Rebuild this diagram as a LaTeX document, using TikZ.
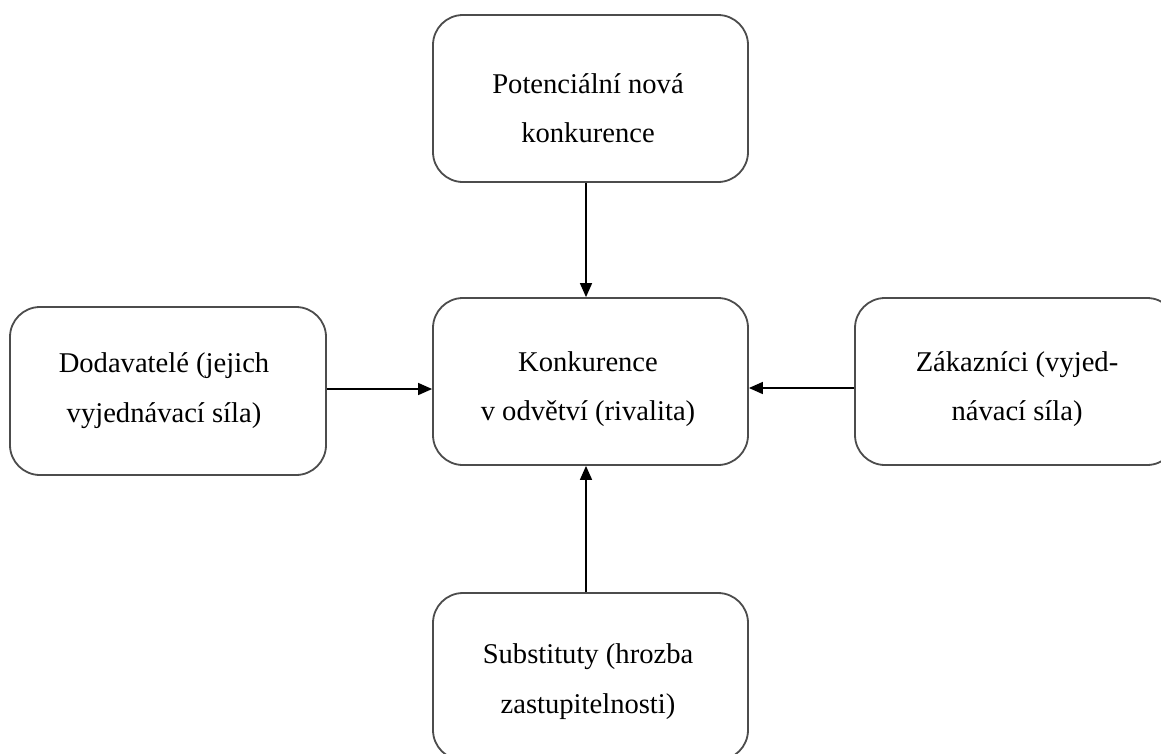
\documentclass[tikz,border=0pt]{standalone}
\usepackage{fontspec}
\setmainfont{Liberation Serif}
\usetikzlibrary{arrows.meta}
\begin{document}
\begin{tikzpicture}[x=1pt,y=-1pt,
  box/.style={draw=black!70, line width=1.8pt, rounded corners=30pt, inner sep=0pt},
  lbl/.style={anchor=base, inner sep=0pt, font=\fontsize{28.6}{49}\selectfont},
  arr/.style={-{Triangle[length=14pt,width=12pt]}, line width=1.5pt, black}]
\useasboundingbox (0,0) rectangle (1161,753);
\clip (0,0) rectangle (1161,753);
\fill[white] (0,0) rectangle (1161,753);
% boxes
\node[box, minimum width=315pt, minimum height=167pt] (top) at (590.5,98.5) {};
\node[box, minimum width=315pt, minimum height=167pt] (mid) at (590.5,381.5) {};
\node[box, minimum width=316pt, minimum height=168pt] (left) at (168,391) {};
\node[box, minimum width=322pt, minimum height=167pt] (right) at (1016,381.5) {};
\node[box, minimum width=315pt, minimum height=167pt] (bot) at (590.5,676.5) {};
% texts
\node[lbl] (t1) at (588,93) {Potenciální nová};
\node[lbl] (t2) at (588,142) {konkurence};
\node[lbl] (m1) at (588,371) {Konkurence};
\node[lbl] (m2) at (588,420) {v odvětví (rivalita)};
\node[lbl] (l1) at (164,372) {Dodavatelé (jejich};
\node[lbl] (l2) at (164,422) {vyjednávací síla)};
\node[lbl] (r1) at (1017,371) {Zákazníci (vyjed-};
\node[lbl] (r2) at (1017,420) {návací síla)};
\node[lbl] (b1) at (588,663) {Substituty (hrozba};
\node[lbl] (b2) at (588,713) {zastupitelnosti)};
% arrows
\draw[arr] (top.south -| 586,0) -- (mid.north -| 586,0);
\draw[arr] (bot.north -| 586,0) -- (mid.south -| 586,0);
\draw[arr] (left.east |- 0,389) -- (mid.west |- 0,389);
\draw[arr] (right.west |- 0,388) -- (mid.east |- 0,388);
\end{tikzpicture}
\end{document}
